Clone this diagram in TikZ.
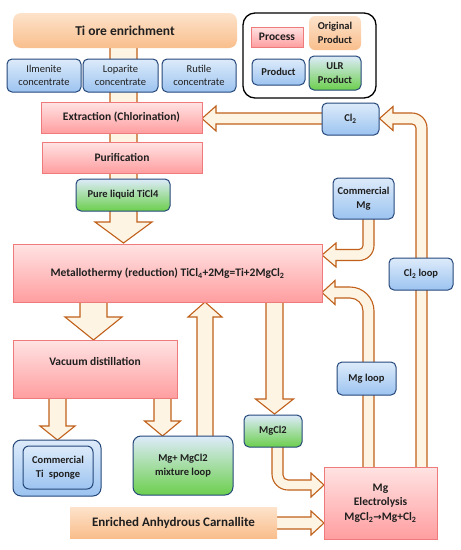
\documentclass[tikz,border=0pt]{standalone}
\usepackage{fontspec}
\setmainfont{Carlito}
\newfontfamily\symfont{DejaVu Sans}
\usetikzlibrary{backgrounds}
\definecolor{arrowc}{HTML}{C0601A}
\definecolor{cream}{HTML}{FDF4E4}
\definecolor{procT}{HTML}{FFE3E3}
\definecolor{procB}{HTML}{FF9EA0}
\definecolor{procb}{HTML}{EE7A7C}
\definecolor{prodT}{HTML}{DDEBFA}
\definecolor{prodB}{HTML}{9CC3F0}
\definecolor{prodb}{HTML}{24477A}
\definecolor{ulrB}{HTML}{6CCF4D}
\definecolor{origT}{HTML}{FDE3CB}
\definecolor{origB}{HTML}{F9BE8C}
\definecolor{txt}{HTML}{1F1F1F}
\begin{document}
\begin{tikzpicture}[x=1pt,y=-1pt,
  base/.style={inner sep=0pt, align=center, text=txt, font=\bfseries\fontsize{10.5}{13.5}\selectfont},
  proc/.style={base, draw=procb, line width=0.8pt, top color=procT, bottom color=procB, font=\bfseries\fontsize{11.5}{14}\selectfont},
  prod/.style={base, draw=prodb, line width=1pt, rounded corners=5pt, top color=prodT, bottom color=prodB},
  ulr/.style={prod, top color=prodT, bottom color=ulrB},
  orig/.style={base, rounded corners=6pt, top color=origT, bottom color=origB},
  fat/.style={draw=arrowc, fill=cream, line width=1.1pt, line join=miter}]
\useasboundingbox (0,0) rectangle (461,550);

% nodes
\node[orig, rounded corners=8pt, minimum width=224pt, minimum height=35pt, font=\bfseries\fontsize{13.5}{16}\selectfont] (tiore) at (125,30.5) {Ti ore enrichment};
\node[prod, minimum width=74pt, minimum height=33pt, font=\fontsize{10.5}{13}\selectfont] (ilm) at (44,75.5) {Ilmenite\\concentrate};
\node[prod, minimum width=75pt, minimum height=33pt, font=\fontsize{10.5}{13}\selectfont] (lop) at (120.5,75.5) {Loparite\\concentrate};
\node[prod, minimum width=74pt, minimum height=33pt, font=\fontsize{10.5}{13}\selectfont] (rut) at (199,75.5) {Rutile\\concentrate};
\node[proc, minimum width=161pt, minimum height=31pt] (ext) at (121.5,117.5) {Extraction (Chlorination)};
\node[proc, minimum width=160pt, minimum height=31pt] (pur) at (122,157.5) {Purification};
\node[ulr, minimum width=94pt, minimum height=32pt] (pure) at (123,195) {Pure liquid TiCl4};
\node[proc, minimum width=309pt, minimum height=58pt] (metal) at (167.5,273) {Metallothermy (reduction) TiCl\textsubscript{4}+2Mg=Ti+2MgCl\textsubscript{2}};

\node[draw=black, line width=1.3pt, rounded corners=12pt, fill=white, minimum width=133pt, minimum height=85pt, inner sep=0pt] (legend) at (309.5,55.5) {};
\node[proc, minimum width=52pt, minimum height=20pt] (lproc) at (277,37) {Process};
\node[orig, minimum width=52pt, minimum height=34pt] (lorig) at (335,33) {Original\\Product};
\node[prod, minimum width=53pt, minimum height=26pt] (lprod) at (278.5,72) {Product};
\node[ulr, minimum width=52pt, minimum height=34pt] (lulr) at (335,73) {ULR\\Product};

\node[prod, minimum width=57pt, minimum height=32pt] (cl2) at (350.5,119) {Cl\textsubscript{2}};
\node[prod, minimum width=61pt, minimum height=41pt] (cmg) at (363.5,198.5) {Commercial\\Mg};
\node[prod, minimum width=64pt, minimum height=32pt] (cl2loop) at (421,274) {Cl\textsubscript{2} loop};
\node[prod, minimum width=59pt, minimum height=33pt] (mgloop) at (366.5,378.5) {Mg loop};
\node[ulr, minimum width=58pt, minimum height=32pt] (mgcl2) at (273,431) {MgCl2};
\node[proc, minimum width=113pt, minimum height=72pt, font=\bfseries\fontsize{11.5}{14.5}\selectfont] (elec) at (380.5,503) {Mg\\Electrolysis\\MgCl\textsubscript{2}{\symfont\fontsize{10}{12}\selectfont→}Mg+Cl\textsubscript{2}};
\node[orig, rounded corners=0pt, minimum width=207pt, minimum height=31pt, font=\bfseries\fontsize{13}{16}\selectfont] (carn) at (173.5,522.5) {Enriched Anhydrous Carnallite};
\node[proc, minimum width=164pt, minimum height=58pt, text depth=15pt] (vac) at (95,369) {Vacuum distillation};
\node[prod, rounded corners=8pt, minimum width=88pt, minimum height=56pt] (tispo) at (57,468) {};
\node[prod, rounded corners=6pt, minimum width=70pt, minimum height=43pt] (tispi) at (58,467.5) {Commercial\\Ti\enspace sponge};
\node[ulr, rounded corners=8pt, minimum width=100pt, minimum height=59pt] (mix) at (183,465.5) {Mg+ MgCl2\\mixture loop};

% arrows
\begin{pgfonlayer}{background}
% Ti ore -> metallothermy (behind ext, pur, pure)
\draw[fat] (110,45) -- (110,222) -- (95,222) -- (123.5,243) -- (152,222) -- (137,222) -- (137,45) -- cycle;
% mixture -> metallothermy
\draw[fat] (197,438) -- (197,317) -- (188,317) -- (205,302) -- (222,317) -- (213,317) -- (213,438) -- cycle;
% metallothermy -> MgCl2
\draw[fat] (266,300) -- (266,399) -- (255.5,399) -- (274.5,414) -- (293.5,399) -- (283,399) -- (283,300) -- cycle;
% metallothermy -> vacuum
\draw[fat] (80,300) -- (80,317) -- (65,317) -- (93.5,340) -- (122,317) -- (107,317) -- (107,300) -- cycle;
% vacuum -> Ti sponge
\draw[fat] (49,396) -- (49,426) -- (40,426) -- (57.5,440) -- (75,426) -- (66,426) -- (66,396) -- cycle;
% vacuum -> mixture
\draw[fat] (154,396) -- (154,421) -- (144.5,421) -- (162.5,436) -- (180.5,421) -- (171,421) -- (171,396) -- cycle;
% Cl2 -> extraction
\draw[fat] (324,113) -- (216,113) -- (216,106) -- (202,118.5) -- (216,131) -- (216,124) -- (324,124) -- cycle;
% carnallite -> electrolysis
\draw[fat] (275,517) -- (311,517) -- (311,511) -- (324,523) -- (311,535) -- (311,529) -- (275,529) -- cycle;
% Cl2 loop
\draw[fat] (427,469) -- (427,128) .. controls (427,119.7) and (420.3,113) .. (412,113) -- (393,113) -- (393,106.5) -- (379.5,118.5) -- (393,130.5) -- (393,124) -- (412,124) .. controls (414.2,124) and (416,125.8) .. (416,128) -- (416,469) -- cycle;
% commercial Mg -> metallothermy
\draw[fat] (363,217) -- (363,245.5) .. controls (363,247.7) and (361.2,249.5) .. (359,249.5) -- (336,249.5) -- (336,243) -- (322,255) -- (336,267) -- (336,260.5) -- (359,260.5) .. controls (367.3,260.5) and (374,253.8) .. (374,245.5) -- (374,217) -- cycle;
% Mg loop
\draw[fat] (374,469) -- (374,311) .. controls (374,297.75) and (363.25,287) .. (350,287) -- (335,287) -- (335,280.5) -- (322,292.5) -- (335,304.5) -- (335,298) -- (350,298) .. controls (357.2,298) and (363,303.8) .. (363,311) -- (363,469) -- cycle;
% MgCl2 -> electrolysis
\draw[fat] (272,445) -- (272,474) .. controls (272,482.8) and (279.2,490) .. (288,490) -- (311,490) -- (311,497) -- (324,485) -- (311,473) -- (311,480) -- (288,480) .. controls (285.2,480) and (283,477.8) .. (283,475) -- (283,445) -- cycle;
\end{pgfonlayer}
\end{tikzpicture}
\end{document}
